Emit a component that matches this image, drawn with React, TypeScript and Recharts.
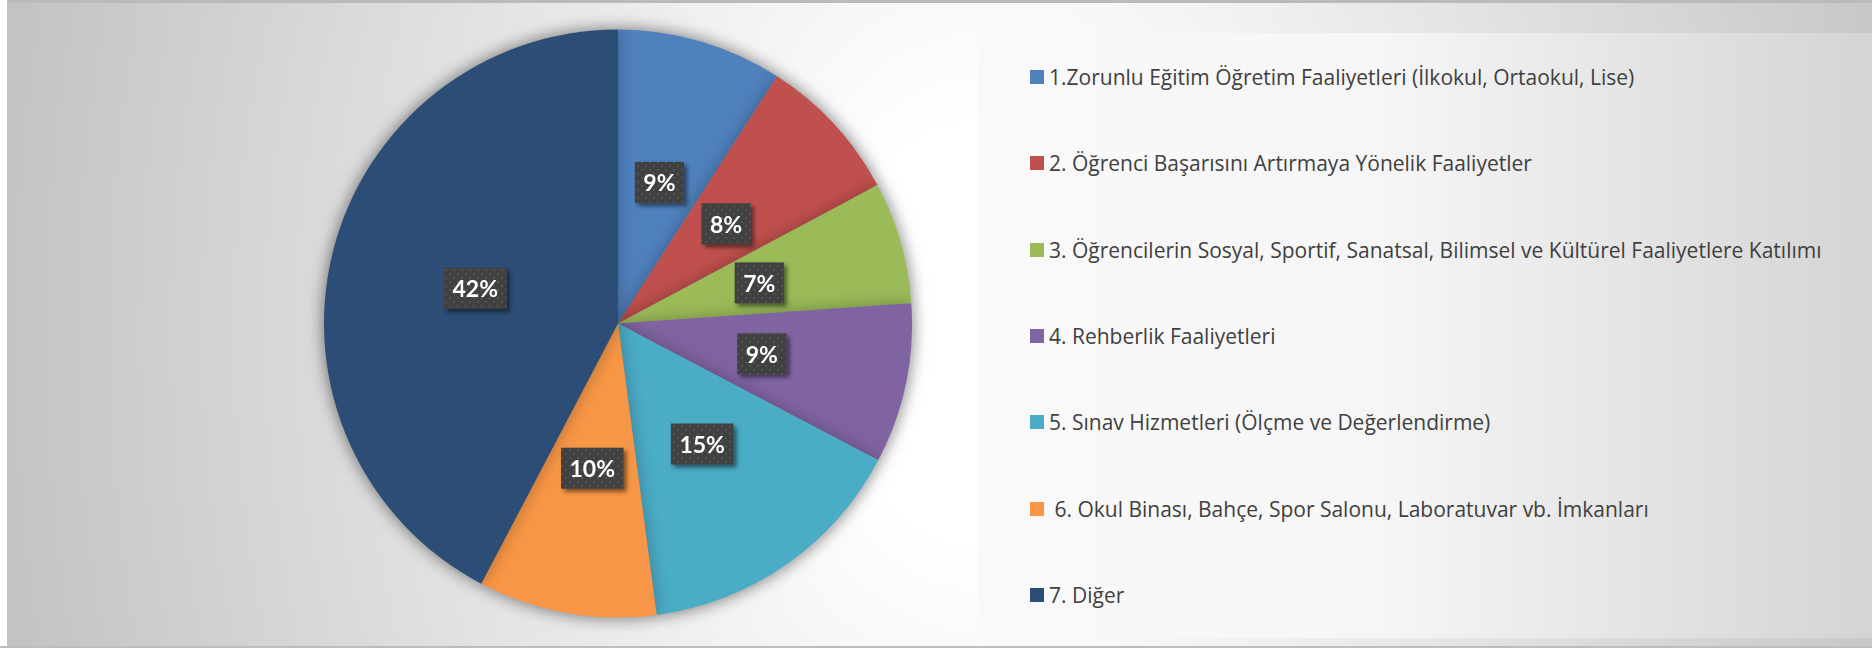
import React from 'react';
import { PieChart, Pie, Cell, Legend } from 'recharts';

const categories = [
  '1.Zorunlu Eğitim Öğretim Faaliyetleri (İlkokul, Ortaokul, Lise)',
  '2. Öğrenci Başarısını Artırmaya Yönelik Faaliyetler',
  '3. Öğrencilerin Sosyal, Sportif, Sanatsal, Bilimsel ve Kültürel Faaliyetlere Katılımı',
  '4. Rehberlik Faaliyetleri',
  '5. Sınav Hizmetleri (Ölçme ve Değerlendirme)',
  ' 6. Okul Binası, Bahçe, Spor Salonu, Laboratuvar vb. İmkanları',
  '7. Diğer',
];

const shares = [9.1, 8.1, 6.7, 8.8, 15.2, 9.8, 42.3];

const colors = ['#4F81BD', '#C0504D', '#9BBB59', '#8064A2', '#4BACC6', '#F79646', '#2C4D75'];

const data = categories.map((name, i) => ({ name, value: shares[i] }));

const RAD = Math.PI / 180;
const labelFont = 'bold 23px Lato';

let measureCtx: CanvasRenderingContext2D | null = null;
const textWidth = (s: string) => {
  if (!measureCtx) measureCtx = document.createElement('canvas').getContext('2d');
  if (!measureCtx) return s.length * 14;
  measureCtx.font = labelFont;
  return measureCtx.measureText(s).width;
};

const renderLabel = (props: any) => {
  const { cx, cy, midAngle, innerRadius, outerRadius, percent } = props;
  const r = (innerRadius + outerRadius) / 2;
  const x = cx + r * Math.cos(-midAngle * RAD);
  const y = cy + r * Math.sin(-midAngle * RAD);
  const txt = `${Math.round(percent * 100)}%`;
  const w = textWidth(txt) + 17;
  const h = 41;
  return (
    <g filter="url(#lblShadow)">
      <rect x={x - w / 2} y={y - h / 2} width={w} height={h} fill="#404040" />
      <rect x={x - w / 2} y={y - h / 2} width={w} height={h} fill="url(#dots)" />
      <text
        x={x}
        y={y}
        textAnchor="middle"
        dominantBaseline="central"
        fill="#ffffff"
        style={{ font: labelFont }}
      >
        {txt}
      </text>
    </g>
  );
};

const LegendBox = () => (
  <div
    style={{
      position: 'relative',
      width: 894,
      height: 605,
      background: 'linear-gradient(to right, #f9f9f9 0%, #f6f6f6 45%, #d4d4d4 100%)',
      fontFamily: '"Open Sans", sans-serif',
      fontSize: 21,
      color: '#404040',
    }}
  >
    {categories.map((name, i) => (
      <div
        key={name}
        style={{
          position: 'absolute',
          left: 52,
          top: 44 + i * 86.3 - 14,
          height: 28,
          display: 'flex',
          alignItems: 'center',
          whiteSpace: 'pre',
        }}
      >
        <span style={{ display: 'inline-block', width: 14, height: 14, background: colors[i], marginRight: 5 }} />
        <span>{name}</span>
      </div>
    ))}
  </div>
);

export default function App() {
  return (
    <div style={{ position: 'relative', width: 1872, height: 648, background: '#ffffff', overflow: 'hidden' }}>
      <style>{`body{margin:0}.pie-main{filter:drop-shadow(0 0 8px rgba(0,0,0,0.28))}`}</style>
      <div
        style={{
          position: 'absolute',
          left: 7,
          top: 0,
          width: 1865,
          height: 646,
          boxSizing: 'border-box',
          borderTop: '3px solid #bababa',
          background: 'radial-gradient(ellipse 1000px 1400px at 973px 330px, #ffffff 0%, #ffffff 15%, #c2c2c2 100%)',
        }}
      />
      <div style={{ position: 'absolute', left: 0, top: 646, width: 1872, height: 2, background: '#bdbdbd' }} />
      <svg width={0} height={0} style={{ position: 'absolute' }}>
        <defs>
          <pattern id="dots" width={8} height={8} patternUnits="userSpaceOnUse">
            <circle cx={2} cy={2} r={0.9} fill="#5a5a5a" />
            <circle cx={6} cy={6} r={0.9} fill="#5a5a5a" />
          </pattern>
          <filter id="lblShadow" x="-30%" y="-30%" width="160%" height="160%">
            <feDropShadow dx={3} dy={3} stdDeviation={2} floodColor="#000" floodOpacity={0.5} />
          </filter>
        </defs>
      </svg>
      <div style={{ position: 'absolute', left: 0, top: 0 }}>
        <PieChart width={1872} height={648} margin={{ top: 0, right: 0, bottom: 0, left: 0 }}>
          <Pie
            className="pie-main"
            data={data}
            dataKey="value"
            nameKey="name"
            cx={618}
            cy={323.5}
            outerRadius={294}
            startAngle={90}
            endAngle={-270}
            stroke="none"
            label={renderLabel}
            labelLine={false}
            isAnimationActive={false}
          >
            {data.map((d, i) => (
              <Cell key={d.name} fill={colors[i]} />
            ))}
          </Pie>
          <Legend
            layout="vertical"
            align="right"
            verticalAlign="top"
            content={() => <LegendBox />}
            wrapperStyle={{ position: 'absolute', left: 978, top: 33, width: 894, height: 605 }}
          />
        </PieChart>
      </div>
    </div>
  );
}
